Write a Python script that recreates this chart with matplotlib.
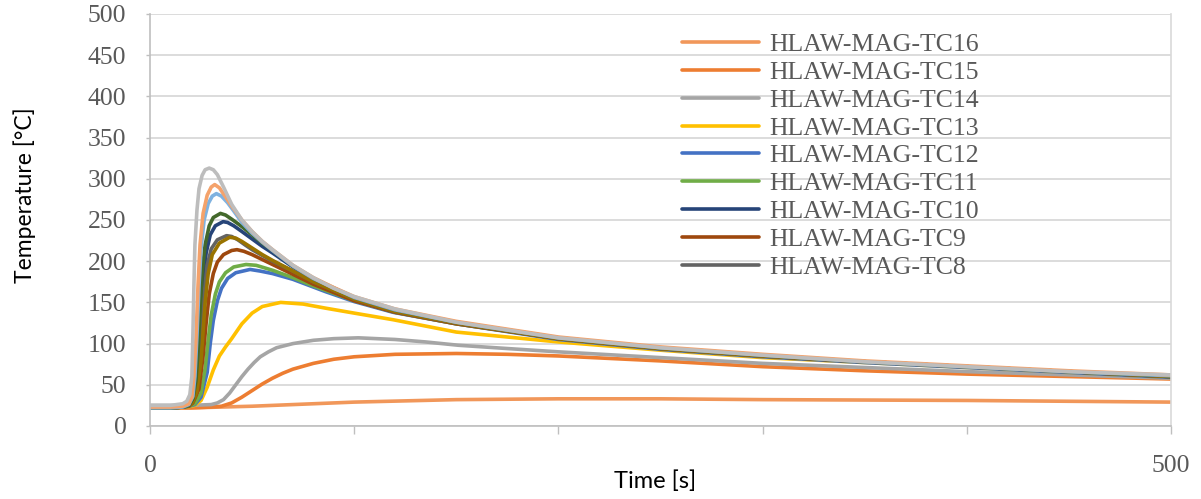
import matplotlib.pyplot as plt

# --- data (time in s, temperature in degC) ---
t_tc16 = [0, 20, 50, 100, 150, 200, 250, 300, 350, 400, 450, 500]
y_tc16 = [22, 22, 24, 29, 32, 33, 33, 32, 31.5, 31, 30, 29]

t_tc15 = [0, 10, 20, 30, 35, 40, 45, 50, 55, 60, 65, 70, 80, 90, 100, 120, 150, 175, 200,
          250, 300, 350, 400, 450, 500]
y_tc15 = [22, 22, 22, 23, 24, 28, 35, 43, 51, 58, 64, 69, 76, 81, 84, 87, 88, 87, 85,
          79, 72, 67, 63, 60, 57]

t_tc14 = [0, 10, 20, 30, 33, 36, 39, 42, 45, 48, 51, 54, 58, 62, 70, 80, 90, 102, 120, 135,
          151, 175, 200, 250, 300, 350, 400, 450, 500]
y_tc14 = [25, 25, 25, 26, 28, 32, 40, 50, 60, 69, 77, 84, 90, 95, 100, 104, 106, 107, 105, 102,
          98, 94, 90, 83, 76, 71, 66, 62, 58]

t_tc13 = [0, 10, 18, 22, 25, 28, 31, 34, 37, 40, 45, 50, 55, 64, 75, 86, 100, 119, 150,
          200, 250, 300, 350, 400, 450, 500]
y_tc13 = [22, 22, 23, 25, 31, 47, 68, 85, 96, 106, 124, 137, 145, 150, 148, 143, 137, 129, 114,
          102, 92, 83, 77, 71, 65, 59]

t_tc12 = [0, 10, 16, 19, 22, 25, 28, 29.5, 31, 33, 35, 38, 42, 49, 54, 60, 70, 86, 100, 119,
          150, 200, 250, 300, 350, 400, 450, 500]
y_tc12 = [22, 22, 23, 24, 26, 35, 65, 100, 128, 152, 167, 179, 186, 190, 188, 185, 178, 163, 151, 138,
          124, 105, 93, 84, 77, 71, 65, 59]

t_tc11 = [0, 10, 16, 19, 22, 25, 27, 28.5, 30, 32, 34, 37, 41, 47, 52, 56, 60, 70, 80, 100,
          120, 150, 200, 250, 300, 350, 400, 450, 500]
y_tc11 = [22, 22, 23, 24, 27, 40, 70, 105, 135, 160, 175, 186, 193, 196, 195, 192, 189, 180, 170, 152,
          138, 124, 106, 94, 85, 78, 72, 66, 60]

t_tc10 = [0, 10, 16, 19, 21, 23, 24, 25, 26, 27.5, 29.5, 32, 35.8, 38, 41, 45, 50, 55, 60, 70,
          80, 100, 120, 150, 200, 250, 300, 350, 400, 450, 500]
y_tc10 = [22, 22, 23, 25, 31, 55, 90, 135, 175, 210, 232, 243, 248, 247, 243, 236, 227, 218, 210, 193,
          178, 155, 140, 125, 106, 94, 85, 78, 72, 66, 60]

t_tc9 = [0, 10, 16, 19, 21, 24, 26, 27.5, 29, 31, 33, 36, 40, 42.6, 46, 50, 55, 60, 70, 80,
         100, 120, 150, 200, 250, 300, 350, 400, 450, 500]
y_tc9 = [22, 22, 23, 24, 28, 45, 85, 125, 160, 185, 199, 208, 213, 214, 212, 208, 202, 196, 184, 172,
         152, 138, 124, 106, 94, 85, 78, 72, 66, 60]

t_tc8 = [0, 10, 16, 19, 21, 23, 24.5, 25.5, 26.5, 28, 30, 33, 37.5, 40, 43, 47, 50, 55, 60, 70,
         80, 100, 120, 150, 200, 250, 300, 350, 400, 450, 500]
y_tc8 = [22, 22, 23, 25, 30, 48, 85, 125, 160, 195, 215, 226, 231, 230, 226, 219, 214, 207, 200, 188,
         175, 154, 139, 125, 106, 94, 85, 78, 72, 66, 60]

# series drawn but not listed in the legend
t_tc7 = [0, 10, 16, 19, 21, 23, 25, 26, 27, 28.5, 30.5, 34, 39, 42, 45, 50, 55, 60, 70, 80,
         100, 120, 150, 200, 250, 300, 350, 400, 450, 500]
y_tc7 = [22, 22, 23, 25, 29, 42, 80, 115, 150, 185, 208, 222, 229, 228, 224, 216, 208, 201, 188, 175,
         154, 139, 125, 106, 94, 85, 78, 72, 66, 60]

t_tc6 = [0, 10, 16, 19, 21, 22.5, 23.5, 24.5, 25.5, 27, 29, 31, 34.5, 37, 40, 45, 50, 55, 60, 70,
         80, 100, 120, 150, 200, 250, 300, 350, 400, 450, 500]
y_tc6 = [22, 22, 23, 25, 33, 55, 90, 140, 185, 220, 243, 253, 258, 256, 251, 242, 232, 222, 213, 194,
         179, 156, 141, 126, 107, 95, 86, 78, 72, 66, 61]

t_tc5 = [0, 10, 16, 19, 21, 22, 23, 24, 25, 26.5, 28.5, 30.5, 32.5, 35, 38, 41, 45, 50, 55, 60,
         70, 80, 100, 120, 150, 200, 250, 300, 350, 400, 450, 500]
y_tc5 = [22, 22, 23, 26, 36, 60, 110, 170, 215, 250, 270, 279, 282, 279, 271, 261, 247, 234, 223, 213,
         194, 179, 156, 141, 126, 107, 95, 86, 78, 72, 66, 61]

t_tc4 = [0, 10, 16, 19, 20.5, 21.5, 22.5, 23.5, 24.5, 26, 28, 30, 31.7, 34, 37, 40, 45, 50, 55, 60,
         70, 80, 90, 100, 120, 150, 200, 250, 300, 350, 400, 450, 500]
y_tc4 = [23, 23, 24, 27, 35, 60, 105, 170, 220, 258, 280, 290, 293, 289, 278, 267, 250, 236, 224, 214,
         195, 180, 168, 157, 142, 127, 108, 96, 87, 79, 73, 67, 62]

t_tc3 = [0, 10, 16, 18, 19.5, 20.5, 21, 21.5, 22, 23, 24, 25.5, 27, 29, 31, 33, 36, 40, 45, 50,
         55, 60, 70, 80, 90, 100, 120, 150, 200, 250, 300, 350, 400, 450, 500]
y_tc3 = [25, 25, 27, 30, 38, 60, 110, 170, 220, 262, 288, 304, 311, 313, 311, 305, 290, 269, 250, 236,
         224, 214, 195, 180, 167, 157, 142, 126, 107, 95, 86, 78, 72, 66, 62]

series = [
    ("HLAW-MAG-TC16", t_tc16, y_tc16, "#f1975a"),
    ("HLAW-MAG-TC15", t_tc15, y_tc15, "#ed7d31"),
    ("HLAW-MAG-TC14", t_tc14, y_tc14, "#a5a5a5"),
    ("HLAW-MAG-TC13", t_tc13, y_tc13, "#ffc000"),
    ("HLAW-MAG-TC12", t_tc12, y_tc12, "#4472c4"),
    ("HLAW-MAG-TC11", t_tc11, y_tc11, "#70ad47"),
    ("HLAW-MAG-TC10", t_tc10, y_tc10, "#264478"),
    ("HLAW-MAG-TC9", t_tc9, y_tc9, "#9e480e"),
    ("HLAW-MAG-TC8", t_tc8, y_tc8, "#636363"),
    ("HLAW-MAG-TC7", t_tc7, y_tc7, "#997300"),
    ("HLAW-MAG-TC6", t_tc6, y_tc6, "#43682b"),
    ("HLAW-MAG-TC5", t_tc5, y_tc5, "#7fb2e0"),
    ("HLAW-MAG-TC4", t_tc4, y_tc4, "#f4a26b"),
    ("HLAW-MAG-TC3", t_tc3, y_tc3, "#bdbdbd"),
]
legend_names = ["HLAW-MAG-TC16", "HLAW-MAG-TC15", "HLAW-MAG-TC14", "HLAW-MAG-TC13",
                "HLAW-MAG-TC12", "HLAW-MAG-TC11", "HLAW-MAG-TC10", "HLAW-MAG-TC9",
                "HLAW-MAG-TC8"]

x_ticks = [0, 100, 200, 300, 400, 500]
x_tick_labels = ["0", "", "", "", "", "500"]
y_ticks = list(range(0, 501, 50))

serif = "Liberation Serif"
grey_txt = "#595959"

fig = plt.figure(figsize=(12.01, 4.99), dpi=100)
ax = fig.add_axes([150 / 1201, 73 / 499, 1021 / 1201, 412 / 499])

handles = {}
for name, t, y, color in series:
    line, = ax.plot(t, y, color=color, lw=2.6, label=name, solid_capstyle="round")
    handles[name] = line

ax.set_xlim(0, 500)
ax.set_ylim(0, 500)
ax.set_xticks(x_ticks)
ax.set_xticklabels(x_tick_labels)
ax.set_yticks(y_ticks)
ax.grid(axis="y", color="#d9d9d9", lw=1.3)
ax.set_axisbelow(True)

for side in ["left", "bottom"]:
    ax.spines[side].set_color("#bfbfbf")
    ax.spines[side].set_linewidth(1.2)
ax.spines["top"].set_visible(False)
ax.spines["right"].set_color("#d9d9d9")
ax.spines["right"].set_linewidth(1.2)

ax.tick_params(axis="x", direction="out", length=6, width=1, color="#bfbfbf",
               pad=15, labelsize=18.5, labelcolor=grey_txt)
ax.tick_params(axis="y", direction="out", length=3, width=1, color="#bfbfbf",
               pad=14, labelsize=18.5, labelcolor=grey_txt)
for lbl in ax.get_xticklabels() + ax.get_yticklabels():
    lbl.set_fontfamily(serif)

fig.text(655 / 1201, 1 - 481 / 499, "Time [s]", ha="center", va="center",
         fontsize=17, fontfamily="Lato", color="black")
fig.text(25 / 1201, 1 - 195 / 499, "Temperature [°C]", ha="center", va="center",
         rotation=90, fontsize=16.5, fontfamily="Lato", color="black")

ax.legend(handles=[handles[n] for n in legend_names], loc="upper left",
          bbox_to_anchor=(682 / 1201, 1 - 33 / 499), bbox_transform=fig.transFigure,
          frameon=False, prop={"family": serif, "size": 18.5}, labelcolor=grey_txt,
          handlelength=3.0, handletextpad=0.4, labelspacing=0.19,
          borderpad=0, borderaxespad=0)

fig.savefig("out.png", dpi=100)
